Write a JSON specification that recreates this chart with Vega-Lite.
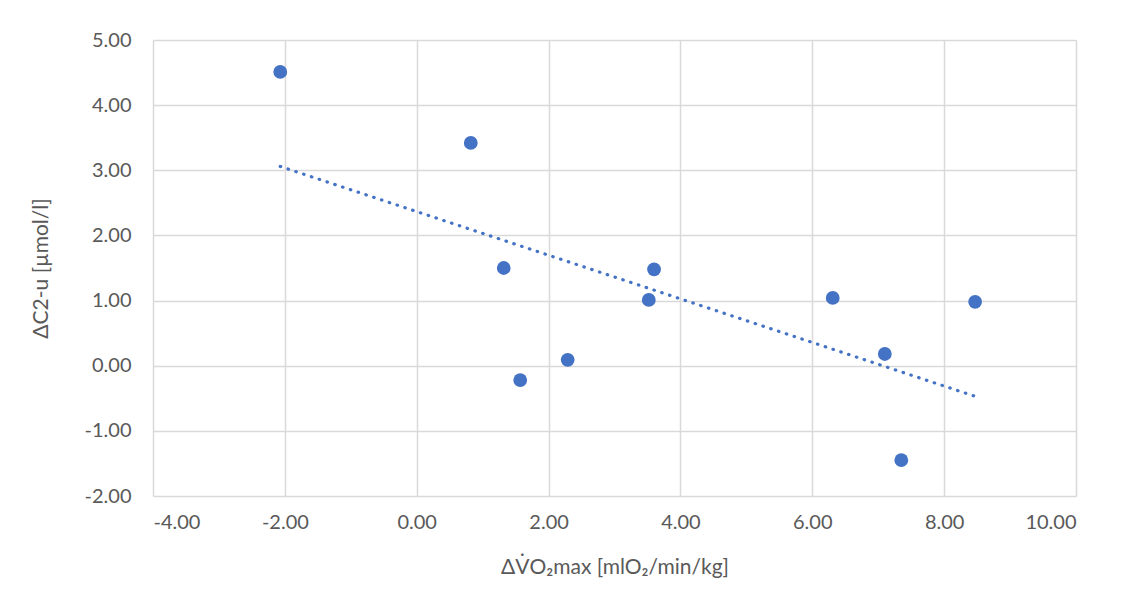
{
  "$schema": "https://vega.github.io/schema/vega-lite/v6.json",
  "width": 923,
  "height": 456,
  "autosize": "none",
  "padding": {"left": 153, "top": 40, "right": 51, "bottom": 114},
  "background": "white",
  "config": {
    "view": {"stroke": null},
    "font": "Lato",
    "axis": {
      "labelFont": "Lato",
      "titleFont": "Lato",
      "labelFontSize": 20,
      "titleFontSize": 21,
      "labelColor": "#595959",
      "titleColor": "#595959",
      "titleFontWeight": "normal",
      "gridColor": "#d9d9d9",
      "gridWidth": 1.5,
      "domain": false,
      "ticks": false,
      "labelExpr": "replace(format(datum.value, '.2f'), '\u2212', '-')"
    }
  },
  "data": {
    "values": [
      {"x": -2.07, "y": 4.51},
      {"x": 0.82, "y": 3.42},
      {"x": 1.32, "y": 1.50},
      {"x": 1.57, "y": -0.22},
      {"x": 2.29, "y": 0.09},
      {"x": 3.52, "y": 1.01},
      {"x": 3.60, "y": 1.48},
      {"x": 6.31, "y": 1.04},
      {"x": 7.10, "y": 0.18},
      {"x": 7.35, "y": -1.45},
      {"x": 8.47, "y": 0.98}
    ]
  },
  "layer": [
    {
      "transform": [{"regression": "y", "on": "x", "extent": [-2.07, 8.47]}],
      "mark": {"type": "line", "color": "#4472C4", "strokeWidth": 3.2, "strokeDash": [0.5, 7.7], "strokeCap": "round"},
      "encoding": {
        "x": {"field": "x", "type": "quantitative"},
        "y": {"field": "y", "type": "quantitative"}
      }
    },
    {
      "mark": {"type": "circle", "color": "#4472C4", "opacity": 1, "size": 190},
      "encoding": {
        "x": {
          "field": "x", "type": "quantitative",
          "scale": {"domain": [-4, 10], "nice": false, "zero": false},
          "axis": {"values": [-4, -2, 0, 2, 4, 6, 8, 10], "labelPadding": 16, "title": "ΔV̇O₂max [mlO₂/min/kg]", "titlePadding": 24}
        },
        "y": {
          "field": "y", "type": "quantitative",
          "scale": {"domain": [-2, 5], "nice": false, "zero": false},
          "axis": {"values": [-2, -1, 0, 1, 2, 3, 4, 5], "labelPadding": 22, "title": "ΔC2-u [µmol/l]", "titlePadding": 33}
        }
      }
    }
  ]
}
